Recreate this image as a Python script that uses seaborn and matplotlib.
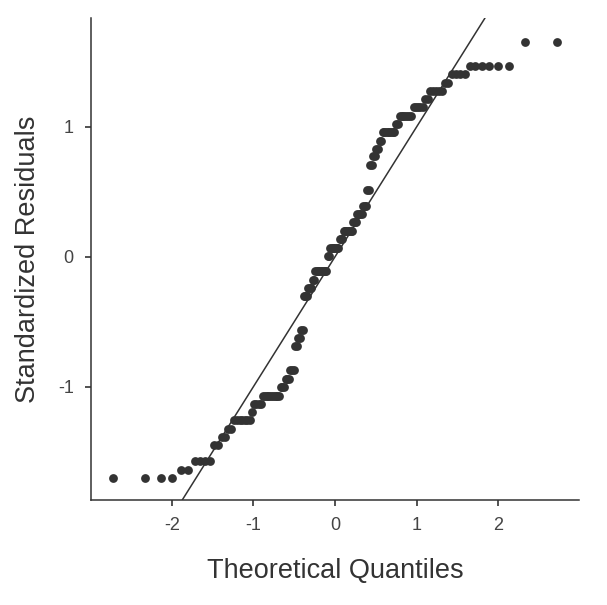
import numpy as np
import pandas as pd
import matplotlib
matplotlib.use("Agg")
import matplotlib.pyplot as plt
import seaborn as sns
from statistics import NormalDist

resid_levels = [-1.705, -1.638, -1.575, -1.451, -1.387, -1.325, -1.259, -1.195, -1.131, -1.070,
                -1.003, -0.940, -0.875, -0.690, -0.628, -0.562, -0.305, -0.241, -0.180, -0.113,
                0.008, 0.067, 0.136, 0.202, 0.264, 0.328, 0.392, 0.515, 0.705, 0.772,
                0.833, 0.895, 0.959, 1.023, 1.087, 1.152, 1.215, 1.277, 1.340, 1.405,
                1.469, 1.654]
resid_counts = [4, 2, 4, 2, 2, 2, 7, 1, 4, 10,
                3, 3, 3, 2, 2, 2, 3, 3, 2, 9,
                2, 7, 3, 7, 3, 4, 3, 2, 2, 2,
                2, 2, 8, 2, 7, 5, 2, 5, 2, 4,
                6, 2]
x_ticks = [-2, -1, 0, 1, 2]
y_ticks = [-1, 0, 1]

resid = np.repeat(resid_levels, resid_counts)
n = len(resid)
# theoretical normal quantiles for a QQ plot
theo = np.array([NormalDist().inv_cdf((i - 0.5) / n) for i in range(1, n + 1)])
df = pd.DataFrame({"Theoretical Quantiles": theo, "Standardized Residuals": resid})

sns.set_style("ticks")
plt.rcParams["font.family"] = ["Liberation Sans", "DejaVu Sans"]

fig = plt.figure(figsize=(6.07, 6.05), dpi=100)
ax = fig.add_axes([91/607, 1 - 500/605, (579-91)/607, (500-18)/605])

sns.scatterplot(data=df, x="Theoretical Quantiles", y="Standardized Residuals",
                ax=ax, color="#333333", s=40, linewidth=0, zorder=3)
ax.axline((0, 0), slope=1, color="#333333", lw=1.1, zorder=2)

ax.set_xlim(-2.99, 2.99)
ax.set_ylim(-1.872, 1.838)
ax.set_xticks(x_ticks)
ax.set_yticks(y_ticks)
ax.set_xticklabels([str(t) for t in x_ticks])
ax.set_yticklabels([str(t) for t in y_ticks])
ax.tick_params(axis="both", labelsize=13, length=4.5, width=1.2, pad=8,
               colors="#333333", labelcolor="#444444")
for sp in ["left", "bottom"]:
    ax.spines[sp].set_color("#333333")
    ax.spines[sp].set_linewidth(1.1)
sns.despine(ax=ax)
ax.set_xlabel("Theoretical Quantiles", fontsize=19.5, color="#333333", labelpad=17)
ax.set_ylabel("Standardized Residuals", fontsize=19.5, color="#333333", labelpad=12)

fig.savefig("out.png", dpi=100)
